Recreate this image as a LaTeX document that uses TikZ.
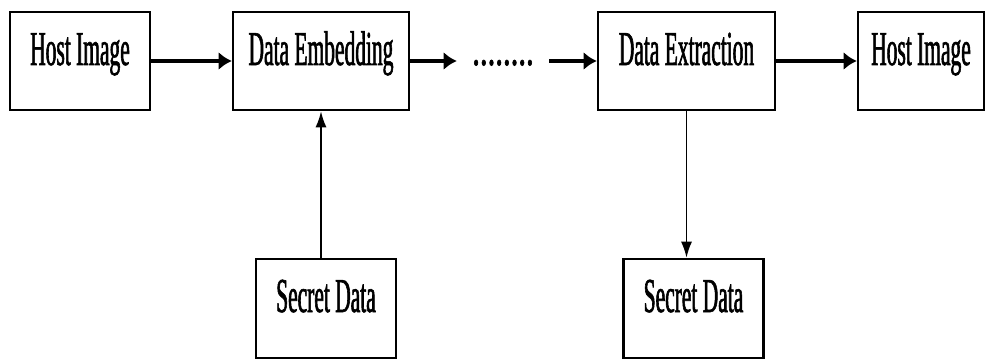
\documentclass[tikz,border=0pt]{standalone}
\usepackage{fontspec}
\setmainfont{Liberation Serif}[FakeStretch=0.44,FakeBold=1.2]
\newfontfamily\dotfont{Liberation Serif}[FakeStretch=0.63,FakeBold=1.2]
\usetikzlibrary{arrows.meta}
\tikzset{
  block/.style = {shape=rectangle, draw, line width=1.3pt,
                  inner xsep=0pt, inner ysep=0pt,
                  text height=26.5pt, text depth=22.5pt,
                  minimum width=70pt,
                  font=\fontsize{24.4}{28}\selectfont},
  gap/.style   = {block, draw=none, minimum width=45pt,
                  font=\dotfont\fontsize{24.4}{28}\selectfont},
  flow/.style  = {-{Latex[length=6.5pt,width=9pt]}, line width=1.7pt},
  feed/.style  = {-{Latex[length=8pt,width=5.5pt]}, line width=0.8pt}
}

\begin{document}
\begin{tikzpicture}[x=0.5pt,y=-0.5pt]
  \useasboundingbox (0,0) rectangle (988,363);

  \node[block] (host) at (80,61) {Host Image};
  \node[block, minimum width=88pt] (embed) at (321,61) {Data Embedding};
  \node[gap] (dots) at (503,61) {........};
  \node[block, minimum width=88.5pt] (extract) at (686.5,61) {Data Extraction};
  \node[block, minimum width=63pt] (out) at (921,61) {Host Image};
  \node[block, text depth=23pt] (secretin) at (326,308.5) {Secret Data};
  \node[block, text depth=23pt] (secretout) at (693.5,308.5) {Secret Data};

  \draw[flow] (host) -- (embed);
  \draw[flow] (embed) -- (dots);
  \draw[flow] (dots) -- (extract);
  \draw[flow] (extract) -- (out);
  \draw[feed] (secretin.north -| embed.south) -- (embed.south);
  \draw[feed] (extract.south) -- (extract.south |- secretout.north);
\end{tikzpicture}
\end{document}
